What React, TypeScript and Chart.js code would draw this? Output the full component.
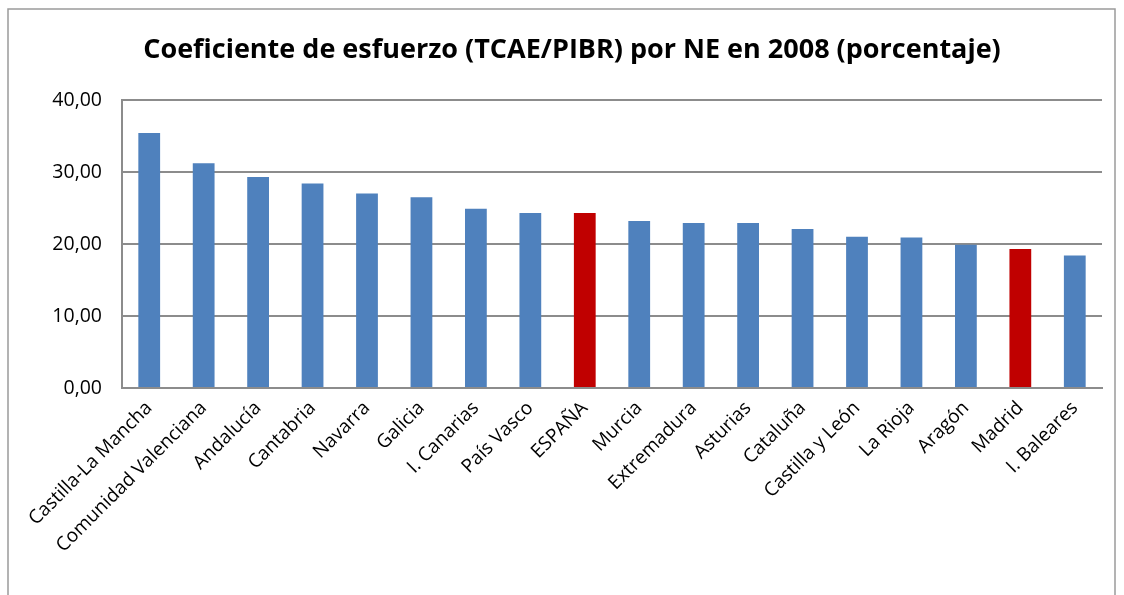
import React, { useEffect, useRef } from "react";
import { Chart, registerables } from "chart.js";

Chart.register(...registerables);

const TITLE = "Coeficiente de esfuerzo (TCAE/PIBR) por NE en 2008 (porcentaje)";
const categories = [
  "Castilla-La Mancha",
  "Comunidad Valenciana",
  "Andalucía",
  "Cantabria",
  "Navarra",
  "Galicia",
  "I. Canarias",
  "País Vasco",
  "ESPAÑA",
  "Murcia",
  "Extremadura",
  "Asturias",
  "Cataluña",
  "Castilla y León",
  "La Rioja",
  "Aragón",
  "Madrid",
  "I. Baleares",
];
const values = [35.4, 31.2, 29.3, 28.4, 27.0, 26.5, 24.9, 24.3, 24.3, 23.2, 22.9, 22.9, 22.1, 21.0, 20.9, 19.9, 19.3, 18.4];
const highlighted = ["ESPAÑA", "Madrid"];
const BLUE = "#4F81BD";
const RED = "#C00000";

const frameAndTitle = {
  id: "frameAndTitle",
  beforeDraw(chart: any) {
    const ctx = chart.ctx;
    ctx.save();
    ctx.strokeStyle = "#9a9a9a";
    ctx.lineWidth = 1.5;
    ctx.strokeRect(8, 9, 1107, 620);
    ctx.fillStyle = "#000";
    ctx.font = "bold 27px 'Open Sans'";
    ctx.textAlign = "center";
    ctx.textBaseline = "middle";
    ctx.fillText(TITLE, 572, 50);
    ctx.restore();
  },
};

export default function App() {
  const ref = useRef<HTMLCanvasElement>(null);
  useEffect(() => {
    if (!ref.current) return;
    const chart = new Chart(ref.current, {
      type: "bar",
      data: {
        labels: categories,
        datasets: [
          {
            data: values,
            backgroundColor: categories.map((c) => (highlighted.includes(c) ? RED : BLUE)),
            categoryPercentage: 1,
            barPercentage: 0.4,
          },
        ],
      },
      options: {
        animation: false,
        responsive: false,
        layout: { padding: { top: 100, right: 22, left: 0, bottom: 0 } },
        plugins: { legend: { display: false }, tooltip: { enabled: false }, title: { display: false } },
        scales: {
          x: {
            grid: { display: false, drawTicks: false },
            border: { display: true, color: "#8c8c8c", width: 2 },
            ticks: {
              color: "#000",
              font: { family: "'Open Sans'", size: 19 },
              maxRotation: 45,
              minRotation: 45,
              autoSkip: false,
              padding: 9,
            },
            afterFit: (s: any) => {
              s.height = 207;
            },
          },
          y: {
            min: 0,
            max: 40,
            ticks: {
              stepSize: 10,
              color: "#000",
              font: { family: "'Open Sans'", size: 19.5 },
              padding: 20,
              callback: (v: any) => Number(v).toFixed(2).replace(".", ","),
            },
            grid: { color: "#8c8c8c", lineWidth: 2, drawTicks: false },
            border: { display: true, color: "#8c8c8c", width: 2 },
            afterFit: (s: any) => {
              s.width = 122;
            },
          },
        },
      },
      plugins: [frameAndTitle],
    });
    return () => chart.destroy();
  }, []);
  return (
    <div style={{ position: "fixed", left: 0, top: 0, width: 1124, height: 595, background: "#fff" }}>
      <canvas ref={ref} width={1124} height={595} />
    </div>
  );
}
